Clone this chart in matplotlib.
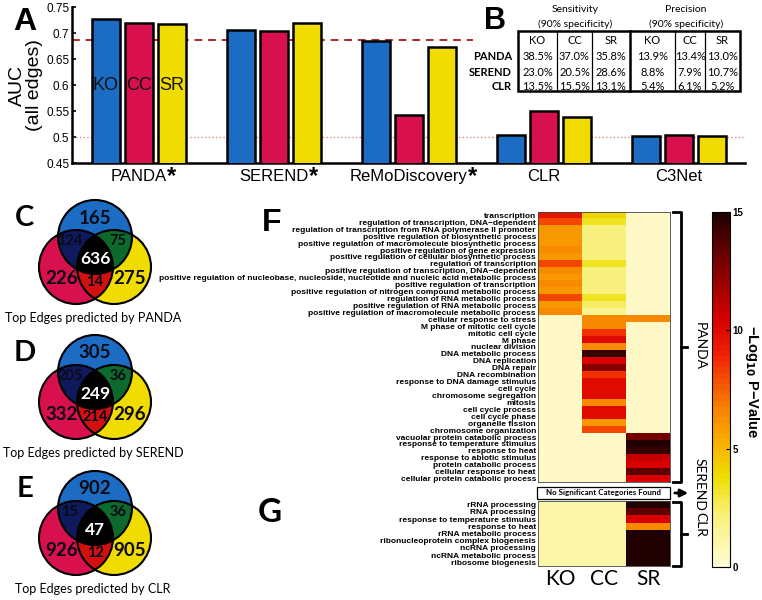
import numpy as np
import matplotlib
matplotlib.use('Agg')
import matplotlib.pyplot as plt
from matplotlib.patches import Polygon, Circle, Rectangle
from matplotlib.colors import LinearSegmentedColormap

plt.rcParams['font.family'] = ['Liberation Sans', 'DejaVu Sans']

# ---- panel A: AUC over all edges
methods = ['PANDA', 'SEREND', 'ReMoDiscovery', 'CLR', 'C3Net']
starred = [True, True, True, False, False]
auc_ko = [0.726, 0.706, 0.685, 0.504, 0.502]
auc_cc = [0.719, 0.703, 0.543, 0.550, 0.503]
auc_sr = [0.717, 0.719, 0.674, 0.538, 0.501]
auc_cutoff = 0.686
auc_random = 0.5
sets = ['KO', 'CC', 'SR']

# ---- panel B: sensitivity / precision table
tbl_methods = ['PANDA', 'SEREND', 'CLR']
tbl_vals = [['38.5%', '37.0%', '35.8%', '13.9%', '13.4%', '13.0%'],
            ['23.0%', '20.5%', '28.6%', '8.8%', '7.9%', '10.7%'],
            ['13.5%', '15.5%', '13.1%', '5.4%', '6.1%', '5.2%']]

# ---- panels C-E: overlap of top edges (KO, CC, SR, KO&CC, KO&SR, CC&SR, all)
venn_names = ['PANDA', 'SEREND', 'CLR']
venn_letters = ['C', 'D', 'E']
venn_counts = [[165, 226, 275, 124, 75, 14, 636],
               [305, 332, 296, 205, 36, 214, 249],
               [902, 926, 905, 15, 36, 12, 47]]

# ---- panel F: GO enrichment, PANDA
go_f = ['transcription',
        'regulation of transcription, DNA\u2212dependent',
        'regulation of transcription from RNA polymerase II promoter',
        'positive regulation of biosynthetic process',
        'positive regulation of macromolecule biosynthetic process',
        'positive regulation of gene expression',
        'positive regulation of cellular biosynthetic process',
        'regulation of transcription',
        'positive regulation of transcription, DNA\u2212dependent',
        'positive regulation of nucleobase, nucleoside, nucleotide and nucleic acid metabolic process',
        'positive regulation of transcription',
        'positive regulation of nitrogen compound metabolic process',
        'regulation of RNA metabolic process',
        'positive regulation of RNA metabolic process',
        'positive regulation of macromolecule metabolic process',
        'cellular response to stress',
        'M phase of mitotic cell cycle',
        'mitotic cell cycle',
        'M phase',
        'nuclear division',
        'DNA metabolic process',
        'DNA replication',
        'DNA repair',
        'DNA recombination',
        'response to DNA damage stimulus',
        'cell cycle',
        'chromosome segregation',
        'mitosis',
        'cell cycle process',
        'cell cycle phase',
        'organelle fission',
        'chromosome organization',
        'vacuolar protein catabolic process',
        'response to temperature stimulus',
        'response to heat',
        'response to abiotic stimulus',
        'protein catabolic process',
        'cellular response to heat',
        'cellular protein catabolic process']
ko_f = [9.5, 8.0, 6.0, 6.0, 6.0, 6.5, 6.0, 8.0, 6.5, 6.0, 6.5, 6.0, 8.0, 6.0, 6.5,
        0.3, 0.3, 0.3, 0.3, 0.3, 0.3, 0.3, 0.3, 0.3, 0.3, 0.3, 0.3, 0.3, 0.3, 0.3, 0.3, 0.3,
        0.3, 0.3, 0.3, 0.3, 0.3, 0.3, 0.3]
cc_f = [4.0, 3.5, 2.0, 2.0, 2.0, 2.0, 2.0, 3.5, 2.0, 2.0, 2.0, 2.0, 3.5, 2.5, 1.5,
        6.5, 6.5, 8.5, 10.0, 6.5, 14.5, 10.5, 12.5, 8.5, 10.0, 10.0, 10.0, 6.5, 10.0, 10.0, 6.0, 8.0,
        0.3, 0.3, 0.3, 0.3, 0.3, 0.3, 0.3]
sr_f = [0.3, 0.3, 0.3, 0.3, 0.3, 0.3, 0.3, 0.3, 0.3, 0.3, 0.3, 0.3, 0.3, 0.3, 0.3,
        6.5, 0.3, 0.3, 0.3, 0.3, 0.3, 0.3, 0.3, 0.3, 0.3, 0.3, 0.3, 0.3, 0.3, 0.3, 0.3, 0.3,
        13.0, 15.0, 14.5, 11.0, 10.5, 13.5, 10.5]

# ---- panel G: GO enrichment, CLR
go_g = ['rRNA processing', 'RNA processing', 'response to temperature stimulus',
        'response to heat', 'rRNA metabolic process',
        'ribonucleoprotein complex biogenesis', 'ncRNA processing',
        'ncRNA metabolic process', 'ribosome biogenesis']
ko_g = [1.0, 1.0, 1.0, 1.0, 1.0, 1.0, 1.0, 1.0, 1.0]
cc_g = [1.0, 1.0, 1.0, 1.0, 1.0, 1.0, 1.0, 1.0, 1.0]
sr_g = [15.0, 13.5, 10.5, 6.5, 15.0, 15.0, 15.0, 15.0, 15.0]

blue = '#1c6cc4'
red = '#d8104e'
yellow = '#f1dc00'
W, H = 762, 600

fig = plt.figure(figsize=(7.62, 6.0), dpi=100)

# ================= A
ax = fig.add_axes([72 / W, 1 - 163 / H, (745 - 72) / W, 156 / H])
x = np.arange(len(methods))
for k, (vals, col) in enumerate(zip([auc_ko, auc_cc, auc_sr], [blue, red, yellow])):
    ax.bar(x + (k - 1) * 0.245, vals, width=0.205, color=col, edgecolor='black', linewidth=1.8, zorder=3)
    ax.text(x[0] + (k - 1) * 0.245, 0.6, sets[k], ha='center', va='center', fontsize=13, color='#111111', zorder=4)
ax.axhline(auc_cutoff, xmin=0, xmax=0.596, color='#b8262a', lw=1.4, dashes=(4, 3), zorder=2)
ax.axhline(auc_random, color='#e58a8a', lw=1.0, ls=':', zorder=2)
ax.set_ylim(0.45, 0.75)
ax.set_xlim(-0.496, 4.49)
yt = np.arange(0.45, 0.751, 0.05)
ax.set_yticks(yt)
ax.set_yticklabels([f'{v:g}' for v in np.round(yt, 2)], fontsize=8.5)
ax.set_xticks(x)
ax.set_xticklabels(methods, fontsize=12)
ax.tick_params(axis='x', length=0, pad=4)
ax.tick_params(axis='y', direction='in', length=3, width=1.2, pad=2)
for s in ['top', 'right']:
    ax.spines[s].set_visible(False)
for s in ['left', 'bottom']:
    ax.spines[s].set_linewidth(1.8)
ax.set_ylabel('AUC\n(all edges)', fontsize=14, labelpad=2, linespacing=1.0)

# ================= overlay in pixel coordinates
ov = fig.add_axes([0, 0, 1, 1], zorder=10)
ov.set_xlim(0, W)
ov.set_ylim(H, 0)
ov.axis('off')

bold = dict(fontweight='bold')
ov.text(25, 22, 'A', fontsize=23, ha='center', va='center', **bold)
ov.text(495, 21, 'B', fontsize=22, ha='center', va='center', **bold)
ov.text(272, 223, 'F', fontsize=23, ha='center', va='center', **bold)
ov.text(270, 513, 'G', fontsize=24, ha='center', va='center', family=['Lato', 'DejaVu Sans'], **bold)

# ---- table B
lato = ['Lato', 'DejaVu Sans']
col_x = [518, 557, 592, 630, 675, 705, 740]
row_y = [57, 72, 87]
ov.text(575, 10, 'Sensitivity', ha='center', va='center', fontsize=7.5, family=lato)
ov.text(575, 24, '(90% specificity)', ha='center', va='center', fontsize=7.5, family=lato)
ov.text(686, 10, 'Precision', ha='center', va='center', fontsize=7.5, family=lato)
ov.text(686, 24, '(90% specificity)', ha='center', va='center', fontsize=7.5, family=lato)
ov.add_patch(Rectangle((col_x[0], 31), col_x[-1] - col_x[0], 60, fill=False, ec='black', lw=1.8))
for i, cx in enumerate(col_x[1:-1]):
    ov.plot([cx, cx], [31, 91], color='black', lw=1.8 if i == 2 else 0.9)
for j in range(6):
    xc = (col_x[j] + col_x[j + 1]) / 2
    ov.text(xc, 40, sets[j % 3], ha='center', va='center', fontsize=8, family=lato)
    for i in range(3):
        ov.text(xc, row_y[i], tbl_vals[i][j], ha='center', va='center', fontsize=8, family=lato)
for i, m in enumerate(tbl_methods):
    ov.text(512, row_y[i], m, ha='right', va='center', fontsize=8, family=lato, **bold)


# ---- Venn diagrams C-E
def region(circs):
    pts = []
    t = np.linspace(0, 2 * np.pi, 720, endpoint=False)
    for i, (c, r) in enumerate(circs):
        p = np.column_stack([c[0] + r * np.cos(t), c[1] + r * np.sin(t)])
        ok = np.ones(len(p), bool)
        for j, (c2, r2) in enumerate(circs):
            if j != i:
                ok &= np.hypot(p[:, 0] - c2[0], p[:, 1] - c2[1]) <= r2 + 1e-6
        pts.append(p[ok])
    pts = np.vstack(pts)
    m = pts.mean(0)
    return pts[np.argsort(np.arctan2(pts[:, 1] - m[1], pts[:, 0] - m[0]))]


r = 37
label_off = [(0, -19), (-33, 42), (35, 42), (-25, 4), (23, 4), (0, 45), (0, 22)]
label_fs = [13.5, 13.5, 13.5, 10.5, 10.5, 10.5, 12.5]
for v, (name, letter, counts) in enumerate(zip(venn_names, venn_letters, venn_counts)):
    cx, cy = 95, 237 + [0, 135, 271][v]
    cb, cr, cyl = (cx, cy), (cx - 19, cy + 30), (cx + 19, cy + 30)
    for c, col in [(cb, blue), (cr, red), (cyl, yellow)]:
        ov.add_patch(Circle(c, r, color=col, lw=0))
    for circs, col in [([(cb, r), (cr, r)], '#0f1a5e'),
                       ([(cb, r), (cyl, r)], '#0d6a2c'),
                       ([(cr, r), (cyl, r)], '#d21010'),
                       ([(cb, r), (cr, r), (cyl, r)], 'black')]:
        ov.add_patch(Polygon(region(circs), closed=True, color=col, lw=0))
    for c in [cb, cr, cyl]:
        ov.add_patch(Circle(c, r, fill=False, ec='black', lw=1.5))
    for k, n in enumerate(counts):
        dx, dy = label_off[k]
        ov.text(cx + dx, cy + dy, str(n), ha='center', va='center', fontsize=label_fs[k],
                color='white' if k == 6 else '#0a0a14', family=lato, **bold)
    ov.text(25, cy - 19, letter, ha='center', va='center', fontsize=21, family=lato, **bold)
    ov.text(93, cy + 81, 'Top Edges predicted by ' + name, ha='center', va='center', fontsize=9, family=lato)

# ================= F / G heatmaps
cmap = LinearSegmentedColormap.from_list(
    'go', [(0.0, '#fffbd2'), (0.15, '#f8f070'), (0.25, '#eede00'), (0.33, '#f8b800'),
           (0.45, '#f88000'), (0.6, '#f02000'), (0.7, '#d80000'), (0.85, '#800000'), (1.0, '#200000')], N=64)

axf = fig.add_axes([538 / W, 1 - 482 / H, 132 / W, 270 / H])
imf = axf.imshow(np.column_stack([ko_f, cc_f, sr_f]), aspect='auto', cmap=cmap, vmin=0, vmax=15,
                 interpolation='nearest')
axg = fig.add_axes([538 / W, 1 - 566 / H, 132 / W, 65 / H])
axg.imshow(np.column_stack([ko_g, cc_g, sr_g]), aspect='auto', cmap=cmap, vmin=0, vmax=15,
           interpolation='nearest')
for a, terms in [(axf, go_f), (axg, go_g)]:
    a.set_yticks(np.arange(len(terms)))
    a.set_yticklabels(terms, fontsize=6.0, fontweight='bold')
    a.set_xticks([])
    a.tick_params(axis='y', length=0, pad=1.5)
    for s in a.spines.values():
        s.set_linewidth(0.6)
        s.set_color('#444444')
for k, s in enumerate(sets):
    ov.text(560 + 44 * k, 579, s, ha='center', va='center', fontsize=15, family=lato)

# no-result box for SEREND
ov.add_patch(Rectangle((537, 487), 133, 12, fill=True, fc='white', ec='black', lw=0.9))
ov.text(603.5, 493, 'No Significant Categories Found', ha='center', va='center', fontsize=5.8,
        family=lato, **bold)
ov.annotate('', xy=(691, 493), xytext=(672, 493),
            arrowprops=dict(arrowstyle='-|>', lw=2, color='black', mutation_scale=11))

# brackets
for y0, y1 in [(212, 482), (502, 566)]:
    ym = (y0 + y1) / 2
    ov.plot([673, 681, 681, 673], [y0, y0, y1, y1], color='black', lw=2)
    ov.plot([681, 687], [ym, ym], color='black', lw=2)
ov.text(700, 346, 'PANDA', rotation=-90, ha='center', va='center', fontsize=10, family=lato)
ov.text(700, 484, 'SEREND', rotation=-90, ha='center', va='center', fontsize=10, family=lato)
ov.text(700, 524, 'CLR', rotation=-90, ha='center', va='center', fontsize=10, family=lato)

# colorbar
cax = fig.add_axes([712 / W, 1 - 567 / H, 18 / W, 355 / H])
cb = fig.colorbar(imf, cax=cax, ticks=[0, 5, 10, 15])
cb.outline.set_linewidth(0.8)
cax.tick_params(direction='in', length=3, width=0.8, labelsize=7, pad=2)
for t in cax.get_yticklabels():
    t.set_fontweight('bold')
ov.text(752, 382, '\u2212Log$_{\\mathbf{10}}$ P\u2212Value', rotation=-90, ha='center', va='center',
        fontsize=10.5, **bold)

# asterisks next to the significant methods
fig.canvas.draw()
rend = fig.canvas.get_renderer()
for lbl, st in zip(ax.get_xticklabels(), starred):
    if st:
        bb = lbl.get_window_extent(rend)
        fig.text(bb.x1 / W, (bb.y1 + 4) / H, '*', ha='left', va='top', fontsize=17, fontweight='bold')

fig.savefig('out.png', dpi=100)
